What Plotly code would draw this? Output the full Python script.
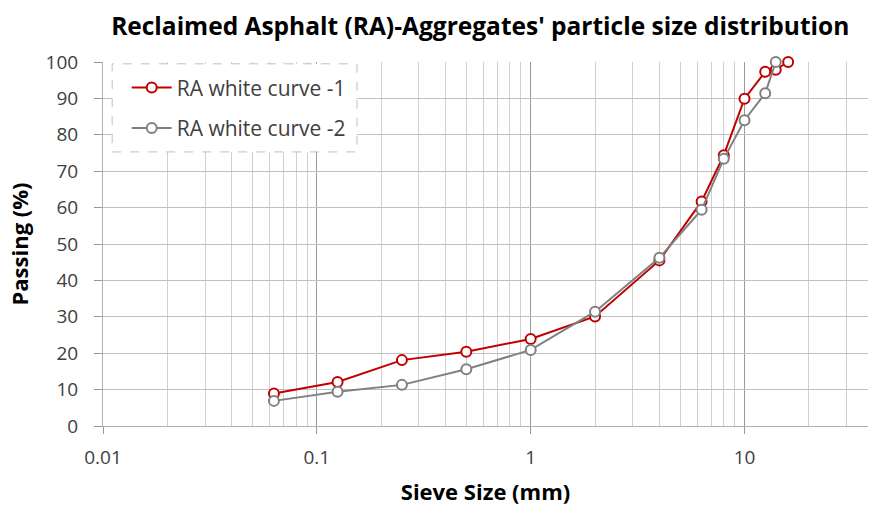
import numpy as np
import plotly.graph_objects as go

sieve_1 = [0.063, 0.125, 0.25, 0.5, 1, 2, 4, 6.3, 8, 10, 12.5, 14, 16]
passing_1 = [8.9, 12.1, 18.1, 20.4, 23.9, 30.1, 45.5, 61.7, 74.4, 89.9, 97.3, 97.9, 100]

sieve_2 = [0.063, 0.125, 0.25, 0.5, 1, 2, 4, 6.3, 8, 10, 12.5, 14]
passing_2 = [6.9, 9.4, 11.3, 15.6, 20.9, 31.4, 46.2, 59.4, 73.4, 84.0, 91.4, 100]

name_1 = "RA white curve -1"
name_2 = "RA white curve -2"

major_ticks = [0.01, 0.1, 1, 10]
major_labels = ["0.01", "0.1", "1", "10"]
minor_ticks = [m * d for d in [0.01, 0.1, 1, 10] for m in range(2, 10)]

FONT = "Open Sans"
red = "#C00000"
gray = "#808080"

fig = go.Figure()
fig.add_trace(go.Scatter(
    x=sieve_1, y=passing_1, name=name_1, mode="lines+markers", legendgroup="a",
    cliponaxis=False,
    line=dict(color=red, width=2),
    marker=dict(symbol="circle", size=10, color="white", line=dict(color=red, width=2)),
))
fig.add_trace(go.Scatter(
    x=sieve_2, y=passing_2, name=name_2, mode="lines+markers", legendgroup="b",
    cliponaxis=False,
    line=dict(color=gray, width=2),
    marker=dict(symbol="circle", size=10, color="white", line=dict(color=gray, width=2)),
))

fig.update_layout(
    width=870, height=506,
    margin=dict(l=103, r=2, t=62, b=80),
    paper_bgcolor="white", plot_bgcolor="white",
    font=dict(family=FONT, color="#404040"),
    title=dict(text="<b>Reclaimed Asphalt (RA)-Aggregates' particle size distribution</b>",
               x=0.552, xanchor="center", y=0.947, yanchor="middle",
               font=dict(family=FONT, size=24.5, color="black")),
    showlegend=True,
    legend=dict(x=0.031, y=0.985, xanchor="left", yanchor="top",
                bgcolor="rgba(255,255,255,0)", borderwidth=0,
                font=dict(family=FONT, size=21, color="#404040"),
                tracegroupgap=10, itemwidth=40),
)

fig.update_xaxes(
    type="log", range=[-2, np.log10(37.8)],
    tickvals=major_ticks, ticktext=major_labels,
    ticks="outside", ticklen=7, tickcolor="#999999", tickwidth=1,
    ticklabelstandoff=7,
    showgrid=True, gridcolor="#9a9a9a", gridwidth=1,
    minor=dict(tickvals=minor_ticks, showgrid=True, gridcolor="#cfcfcf", gridwidth=1, ticks=""),
    showline=True, linecolor="#b0b0b0", linewidth=1,
    tickfont=dict(family=FONT, size=19, color="#404040"),
    title=dict(text="<b>Sieve Size (mm)</b>", font=dict(family=FONT, size=22, color="black"), standoff=19),
    zeroline=False,
)
fig.update_yaxes(
    range=[0, 100], dtick=10,
    ticks="outside", ticklen=8, tickcolor="#999999",
    ticklabelstandoff=12,
    showgrid=True, gridcolor="#c0c0c0", gridwidth=1,
    showline=True, linecolor="#b0b0b0", linewidth=1,
    tickfont=dict(family=FONT, size=19, color="#404040"),
    title=dict(text="<b>Passing (%)</b>", font=dict(family=FONT, size=22, color="black"), standoff=10),
    zeroline=False,
)

# legend box (dashed border, white fill)
fig.add_shape(type="rect", xref="paper", yref="paper",
              x0=0.012, x1=0.332, y0=0.753, y1=0.995,
              line=dict(color="#bfbfbf", width=1, dash="dash"),
              fillcolor="white", layer="above")

fig.write_html("out.html")
